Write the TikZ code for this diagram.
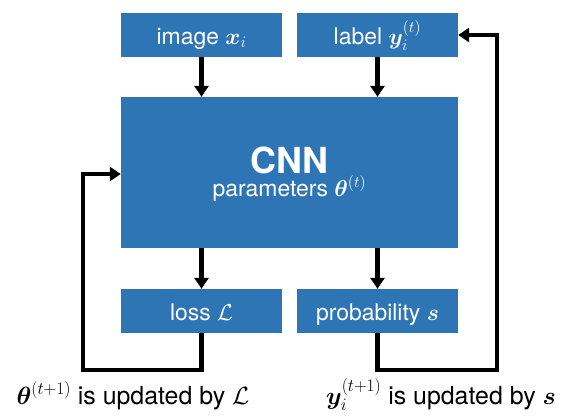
\RequirePackage{fix-cm}
\documentclass[tikz,border=0pt]{standalone}
\usepackage{amsmath,bm}
\usepackage{fontspec}
\setmainfont{TeX Gyre Heros}
\usetikzlibrary{arrows.meta}
\definecolor{boxblue}{HTML}{2E75B6}
\tikzset{
  bluebox/.style={fill=boxblue, draw=none, text=white, inner sep=0pt,
    minimum width=161bp, minimum height=44bp, text height=22bp, text depth=4bp,
    font=\fontsize{23}{25}\selectfont},
  bigbox/.style={fill=boxblue, draw=none, inner sep=0pt, minimum width=337bp, minimum height=151bp},
  intext/.style={text=white, inner sep=0pt, anchor=base},
  flow/.style={line width=4.5bp, -{Triangle[width=14bp,length=11bp]}},
  note/.style={font=\fontsize{25}{28}\selectfont, inner sep=0pt, anchor=base}
}
\begin{document}
\begin{tikzpicture}[x=1bp,y=-1bp]
\useasboundingbox (0,0) rectangle (572,416);
\node[bluebox] (img) at (201.5,35) {image $\bm{x}_i$};
\node[bluebox] (lab) at (377.5,35) {label $\bm{y}_i^{(t)}$};
\node[bigbox] (cnn) at (289.5,172.5) {};
\node[intext, font=\fontsize{36}{40}\selectfont\bfseries] (cnnt) at (289.5,173) {CNN};
\node[intext, font=\fontsize{23}{26}\selectfont] (par) at (289.5,196) {parameters $\bm{\theta}^{(t)}$};
\node[bluebox] (loss) at (201.5,311) {loss $\mathcal{L}$};
\node[bluebox] (prob) at (377.5,311) {probability $\bm{s}$};
\draw[flow] (img.south) -- (img.south |- cnn.north);
\draw[flow] (lab.south) -- (lab.south |- cnn.north);
\draw[flow] (cnn.south -| loss.north) -- (loss.north);
\draw[flow] (cnn.south -| prob.north) -- (prob.north);
\coordinate (lb) at (201.5,370);
\coordinate (ll) at (83,370);
\coordinate (lt) at (83,174);
\coordinate (rb) at (377.5,370);
\coordinate (rr) at (497,370);
\coordinate (rt) at (497,35);
\draw[flow] (loss.south) -- (lb) -- (ll) -- (lt) -- (lt -| cnn.west);
\draw[flow] (prob.south) -- (rb) -- (rr) -- (rt) -- (lab.east);
\node[note] (tl) at (133,404) {$\bm{\theta}^{(t+1)}$ is updated by $\mathcal{L}$};
\node[note] (tr) at (441,404) {$\bm{y}_i^{(t+1)}$ is updated by $\bm{s}$};
\end{tikzpicture}
\end{document}
